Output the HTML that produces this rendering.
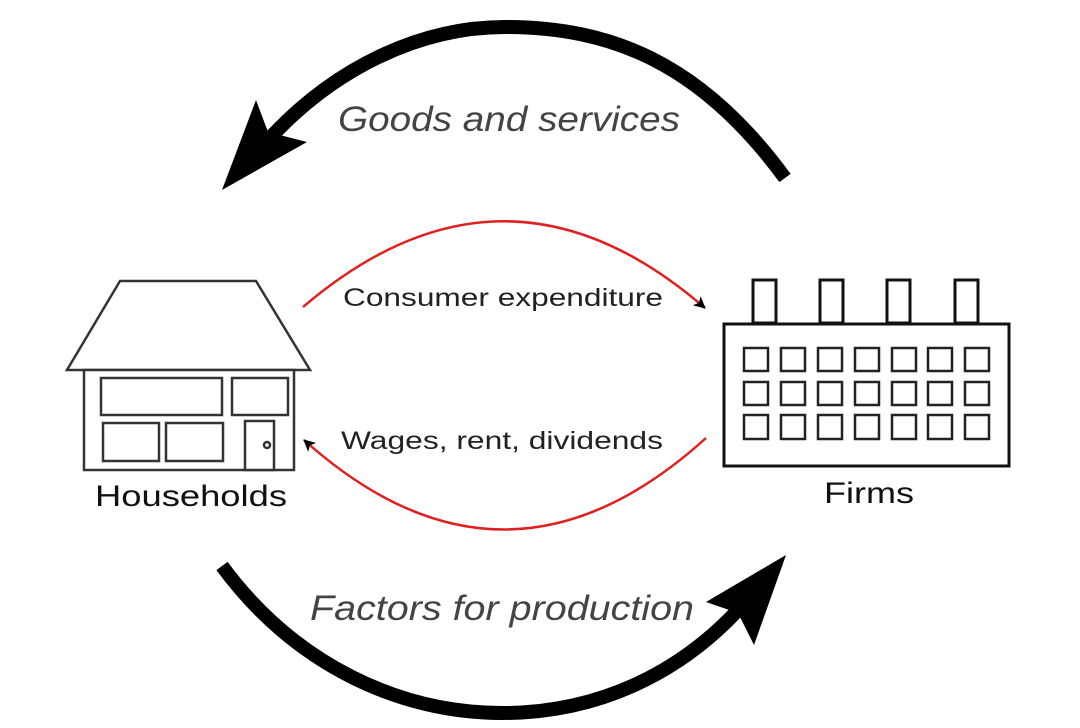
<!DOCTYPE html>
<html><head><style>
html,body{margin:0;padding:0;background:#fff}
svg{display:block}
text{font-family:"Liberation Sans",sans-serif}
</style></head><body>
<svg width="1080" height="728" viewBox="0 0 1080 728" xmlns="http://www.w3.org/2000/svg">
<defs>
<marker id="ah" markerWidth="12" markerHeight="12" refX="11" refY="6" orient="auto" markerUnits="userSpaceOnUse">
<path d="M0,0 L12,6 L0,12 L3,6 Z" fill="#000"/>
</marker>
</defs>
<!-- big top arc -->
<path d="M785,178 C700,62 610,27 505,27 C420,27 335,68 270,138" fill="none" stroke="#000" stroke-width="14"/>
<path d="M222,190 L256,100 L268,132 L307,142 Z" fill="#000"/>
<text x="338" y="131" font-size="35" font-style="italic" fill="#444" textLength="342" lengthAdjust="spacingAndGlyphs">Goods and services</text>
<!-- big bottom arc -->
<path d="M222,566 C295,665 400,713 502,713 C600,713 680,672 738,610" fill="none" stroke="#000" stroke-width="14"/>
<path d="M786,555 L754,645 L738,613 L706,602 Z" fill="#000"/>
<text x="310" y="620" font-size="35" font-style="italic" fill="#444" textLength="384" lengthAdjust="spacingAndGlyphs">Factors for production</text>
<!-- red arcs -->
<path d="M303,307 Q505,135 705,308" fill="none" stroke="#e02020" stroke-width="2.5" marker-end="url(#ah)"/>
<text x="343" y="306" font-size="25" fill="#222" textLength="320" lengthAdjust="spacingAndGlyphs">Consumer expenditure</text>
<path d="M706,438 Q505,620 304,440" fill="none" stroke="#e02020" stroke-width="2.5" marker-end="url(#ah)"/>
<text x="341" y="449" font-size="25" fill="#222" textLength="322" lengthAdjust="spacingAndGlyphs">Wages, rent, dividends</text>
<!-- house -->
<g fill="#fff" stroke="#333" stroke-width="2.5">
<polygon points="120,281 256,281 310,370 67,370"/>
<rect x="84" y="370" width="210" height="100"/>
<rect x="101" y="378" width="121" height="37"/>
<rect x="232" y="378" width="56" height="37"/>
<rect x="103" y="423" width="56" height="38"/>
<rect x="166" y="423" width="57" height="38"/>
<rect x="245" y="421" width="29" height="49"/>
<circle cx="267" cy="445" r="3"/>
</g>
<text x="95" y="506" font-size="30" fill="#111" textLength="192" lengthAdjust="spacingAndGlyphs">Households</text>
<!-- factory -->
<g fill="#fff" stroke="#111" stroke-width="3">
<rect x="753" y="280" width="23" height="43"/>
<rect x="820" y="280" width="23" height="43"/>
<rect x="887" y="280" width="23" height="43"/>
<rect x="955" y="280" width="23" height="43"/>
<rect x="724" y="324" width="285" height="142"/>
</g>
<g fill="none" stroke="#222" stroke-width="2.5">
<rect x="744" y="348" width="24" height="23"/><rect x="781" y="348" width="24" height="23"/><rect x="818" y="348" width="24" height="23"/><rect x="855" y="348" width="24" height="23"/><rect x="892" y="348" width="24" height="23"/><rect x="928" y="348" width="24" height="23"/><rect x="965" y="348" width="24" height="23"/>
<rect x="744" y="382" width="24" height="23"/><rect x="781" y="382" width="24" height="23"/><rect x="818" y="382" width="24" height="23"/><rect x="855" y="382" width="24" height="23"/><rect x="892" y="382" width="24" height="23"/><rect x="928" y="382" width="24" height="23"/><rect x="965" y="382" width="24" height="23"/>
<rect x="744" y="415" width="24" height="24"/><rect x="781" y="415" width="24" height="24"/><rect x="818" y="415" width="24" height="24"/><rect x="855" y="415" width="24" height="24"/><rect x="892" y="415" width="24" height="24"/><rect x="928" y="415" width="24" height="24"/><rect x="965" y="415" width="24" height="24"/>
</g>
<text x="824" y="503" font-size="30" fill="#111" textLength="90" lengthAdjust="spacingAndGlyphs">Firms</text>
</svg>
</body></html>
